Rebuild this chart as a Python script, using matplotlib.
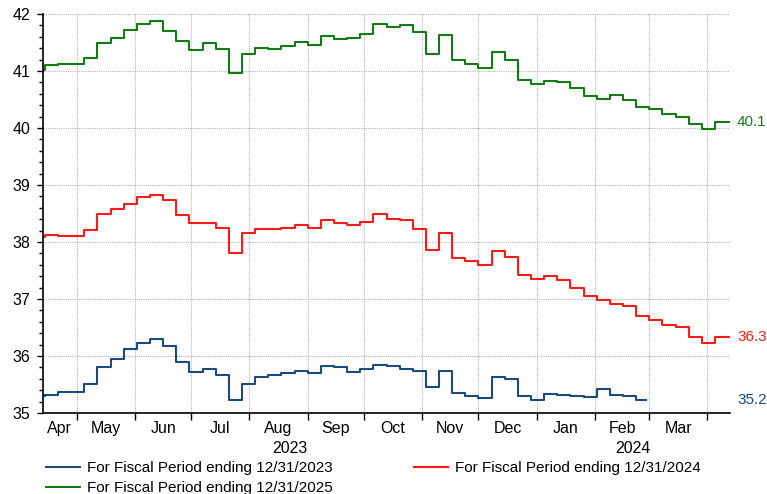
import pandas as pd
import matplotlib
matplotlib.use("Agg")
import matplotlib.pyplot as plt

plt.rcParams["font.family"] = ["Liberation Sans", "DejaVu Sans"]

# date range of the chart, weekly revisions start on Fridays
first_day = "2023-04-13"
week_start = "2023-04-14"
last_day = "2024-04-13"
fy2023_end = "2024-02-28"

labels = ["For Fiscal Period ending 12/31/2023",
          "For Fiscal Period ending 12/31/2024",
          "For Fiscal Period ending 12/31/2025"]
colors = ["#1b4a7d", "#ff1a1a", "#157a15"]

# first value is the one on first_day, then one value per week
fy2023 = [35.29, 35.31, 35.36, 35.37, 35.51, 35.81, 35.95, 36.12, 36.22, 36.29,
          36.18, 35.89, 35.72, 35.77, 35.66, 35.23, 35.51, 35.63, 35.67, 35.70,
          35.74, 35.70, 35.82, 35.80, 35.72, 35.78, 35.85, 35.83, 35.78, 35.73,
          35.46, 35.73, 35.35, 35.29, 35.26, 35.64, 35.60, 35.29, 35.23, 35.33,
          35.31, 35.29, 35.28, 35.42, 35.31, 35.29, 35.22]
fy2024 = [38.09, 38.12, 38.10, 38.10, 38.21, 38.50, 38.58, 38.67, 38.79, 38.83,
          38.73, 38.47, 38.34, 38.34, 38.25, 37.81, 38.16, 38.22, 38.22, 38.24,
          38.29, 38.24, 38.39, 38.34, 38.30, 38.35, 38.49, 38.41, 38.39, 38.22,
          37.86, 38.15, 37.72, 37.67, 37.59, 37.85, 37.74, 37.42, 37.35, 37.40,
          37.33, 37.19, 37.05, 36.99, 36.92, 36.88, 36.71, 36.64, 36.55, 36.51,
          36.34, 36.23, 36.34]
fy2025 = [41.02, 41.10, 41.13, 41.12, 41.22, 41.49, 41.58, 41.72, 41.82, 41.88,
          41.70, 41.53, 41.37, 41.49, 41.39, 40.97, 41.30, 41.40, 41.38, 41.44,
          41.51, 41.46, 41.61, 41.57, 41.58, 41.65, 41.82, 41.78, 41.81, 41.68,
          41.30, 41.63, 41.20, 41.13, 41.06, 41.33, 41.20, 40.84, 40.77, 40.83,
          40.80, 40.70, 40.57, 40.51, 40.58, 40.50, 40.36, 40.33, 40.25, 40.19,
          40.07, 39.99, 40.11]
end_labels = ["35.2", "36.3", "40.1"]


def step_series(values, end):
    d = [pd.Timestamp(first_day)]
    d += list(pd.date_range(week_start, periods=len(values) - 1, freq="7D"))
    d.append(pd.Timestamp(end))
    return d, list(values) + [values[-1]]


fig = plt.figure(figsize=(7.67, 4.94), dpi=100)
ax = fig.add_axes([43 / 767, 1 - 413 / 494, 687 / 767, 399 / 494])

lines = []
for vals, end, col, lab in zip([fy2023, fy2024, fy2025],
                               [fy2023_end, last_day, last_day], colors, labels):
    d, v = step_series(vals, end)
    ln, = ax.plot(d, v, drawstyle="steps-post", color=col, lw=1.5, label=lab)
    lines.append(ln)

x0, x1 = pd.Timestamp(first_day), pd.Timestamp(last_day)
ax.set_xlim(x0, x1)
ax.set_ylim(35, 42)

# y axis
ax.set_yticks(range(35, 43))
ax.set_yticks([35 + 0.2 * i for i in range(36)], minor=True)
ax.tick_params(axis="y", which="major", length=4, width=1, pad=5, labelsize=11.5)
ax.tick_params(axis="y", which="minor", length=3, width=1)

# x axis: ticks at month starts, labels in the middle of each month
months = pd.date_range("2023-04-01", "2024-05-01", freq="MS")
ax.set_xticks([m for m in months if x0 <= m <= x1])
ax.set_xticklabels([])
mids, names = [], []
for a, b in zip(months[:-1], months[1:]):
    lo, hi = max(a, x0), min(b, x1)
    if (hi - lo).days >= 15:
        mids.append(lo + (hi - lo) / 2)
        names.append(a.strftime("%b"))
ax.set_xticks(mids, minor=True)
ax.set_xticklabels(names, minor=True)
ax.tick_params(axis="x", which="major", length=5, width=1)
ax.tick_params(axis="x", which="minor", length=0, pad=6, labelsize=11.5)

for yr in [2023, 2024]:
    lo = max(pd.Timestamp(f"{yr}-01-01"), x0)
    hi = min(pd.Timestamp(f"{yr + 1}-01-01"), x1)
    ax.text(lo + (hi - lo) / 2, -0.09, str(yr), transform=ax.get_xaxis_transform(),
            ha="center", va="center", fontsize=11.5)

ax.grid(True, which="major", color="#b4b4b4", linestyle=(0, (1, 1)), linewidth=0.8)
for s in ["top", "right"]:
    ax.spines[s].set_visible(False)
for s in ["left", "bottom"]:
    ax.spines[s].set_linewidth(1.2)

for vals, col, txt in zip([fy2023, fy2024, fy2025], colors, end_labels):
    ax.annotate(txt, xy=(1, vals[-1]), xycoords=("axes fraction", "data"),
                xytext=(7, 0), textcoords="offset pixels", color=col,
                fontsize=11, va="center", ha="left")

fig.legend([lines[0], lines[2], lines[1]], [labels[0], labels[2], labels[1]],
           loc="upper left", bbox_to_anchor=(46 / 767, 1 - 461 / 494), ncol=2,
           frameon=False, fontsize=11, handlelength=2.2, handletextpad=0.5,
           columnspacing=5.3, labelspacing=0.42, borderpad=0, borderaxespad=0)

fig.savefig("out.png", dpi=100)
